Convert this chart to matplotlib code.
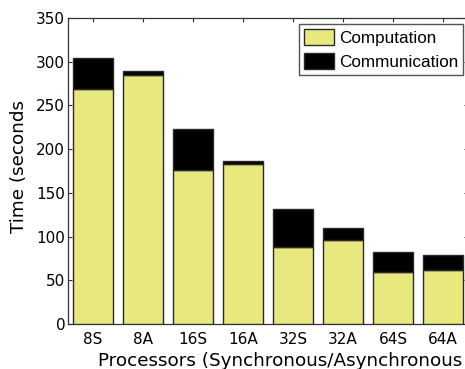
import numpy as np
import matplotlib
matplotlib.use("Agg")
import matplotlib.pyplot as plt

# Run configurations: processor count with Synchronous (S) / Asynchronous (A) mode
configs = ["8S", "8A", "16S", "16A", "32S", "32A", "64S", "64A"]
computation = [269, 285, 176.5, 183.5, 88.5, 96, 60, 62]
communication = [35, 4, 46.5, 2.5, 43.5, 14, 22, 16.5]
yticks = [0, 50, 100, 150, 200, 250, 300, 350]

yellow = "#E8E87E"
edge = "#2a2a2a"

fig = plt.figure(figsize=(4.65, 3.69), dpi=100)
ax = fig.add_axes([68 / 465, 45 / 369, 400 / 465, 306 / 369])

x = np.arange(1, len(configs) + 1)
ax.bar(x, computation, width=0.8, color=yellow, edgecolor=edge,
       linewidth=1.0, label="Computation", zorder=3)
ax.bar(x, communication, bottom=computation, width=0.8, color="black",
       edgecolor=edge, linewidth=1.0, label="Communication", zorder=3)

ax.set_xlim(0.5, 8.5)
ax.set_ylim(0, 350)
ax.set_xticks(x)
ax.set_xticklabels(configs)
ax.set_yticks(yticks)

for s in ax.spines.values():
    s.set_color("#333333")
    s.set_linewidth(0.9)

ax.tick_params(direction="in", length=3, width=0.8, top=True, right=True,
               labelsize=11, colors="#333333", labelcolor="black")
ax.tick_params(axis="y", pad=2)
ax.tick_params(axis="x", pad=6)

ax.set_ylabel("Time (seconds", fontsize=13.2)
ax.yaxis.label.set_verticalalignment("center")
ax.yaxis.set_label_coords((19 - 68) / 400, (324 - 166.5) / 306)

ax.set_xlabel("Processors (Synchronous/Asynchronous", fontsize=13.25,
              ha="left", va="baseline")
ax.xaxis.set_label_coords((98 - 68) / 400, (324 - 366) / 306)

leg = ax.legend(loc="upper right", bbox_to_anchor=(0.9875, 0.980),
                borderaxespad=0, fancybox=False, framealpha=1,
                edgecolor="#555555",
                prop={"family": "Liberation Sans", "size": 12.3},
                handlelength=1.75, handleheight=1.05, handletextpad=0.25,
                labelspacing=0.4, borderpad=0.3)
leg.get_frame().set_linewidth(1.0)
for h in leg.legend_handles:
    h.set_edgecolor(edge)

fig.savefig("out.png", dpi=100)
